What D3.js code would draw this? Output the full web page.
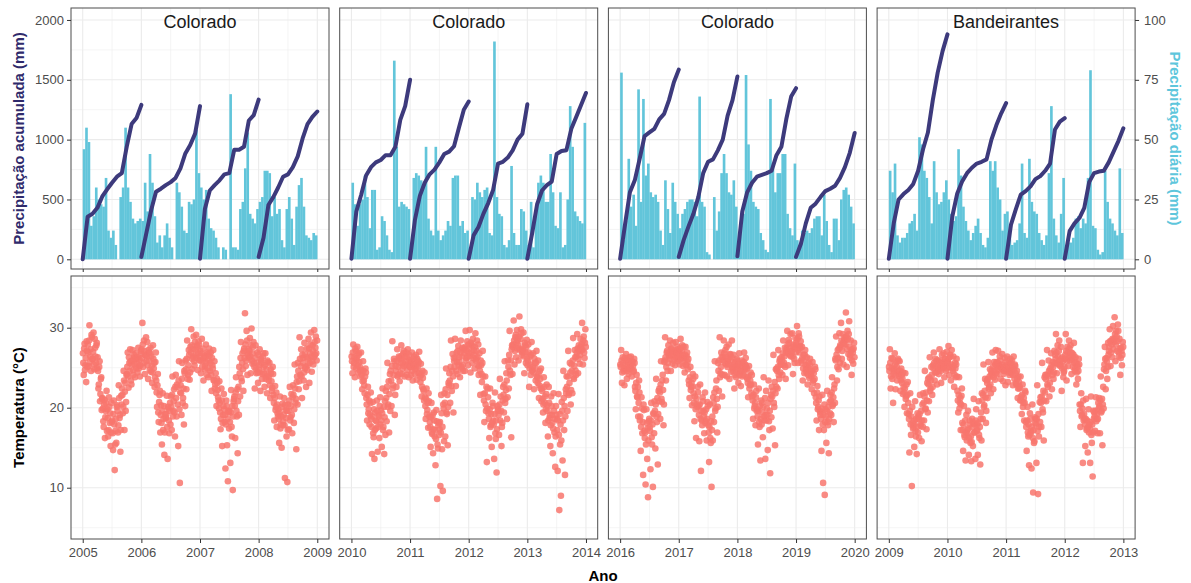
<!DOCTYPE html>
<html>
<head>
<meta charset="utf-8">
<script src="https://cdn.jsdelivr.net/npm/d3@7"></script>
<style>
  body { margin: 0; background: #fff; }
  svg { display: block; font-family: "Liberation Sans", Arial, sans-serif; }
</style>
</head>
<body>
<svg id="chart" width="1191" height="583"></svg>
<script>
// ---- données ----
const stations = ["Colorado", "Colorado", "Colorado", "Bandeirantes"];
const firstYear = [2005, 2010, 2016, 2009];
const accTicks = [0, 500, 1000, 1500, 2000];
const dailyTicks = [0, 25, 50, 75, 100];
const tempTicks = [10, 20, 30];

// chuva diária (mm), uma barra por quinzena, 4 anos por painel
const rain1 = [46,55,49,14,18,30,25,23,22,34,12,9,12,6,0,26,30,55,30,24,17,15,16,17,
  16,32,20,44,32,18,7,10,5,10,15,9,5,0,32,28,22,12,11,24,23,25,54,36,
  30,25,29,17,13,12,9,5,0,5,4,0,69,5,5,4,21,24,38,53,19,17,15,21,
  24,26,37,37,36,18,26,19,21,8,5,21,26,17,6,22,31,34,22,10,9,8,11,10];
const rain2 = [32,23,14,23,25,35,26,13,29,29,4,5,18,16,10,4,3,83,47,22,24,23,22,21,
  6,34,36,35,33,30,47,17,12,10,47,12,8,10,12,16,14,34,35,35,14,16,11,12,
  5,26,25,32,28,26,29,30,11,10,91,26,19,18,6,5,8,39,11,6,6,21,20,12,
  6,24,5,18,32,35,32,24,24,44,28,14,13,28,5,6,25,64,47,20,18,16,15,57];
const rain3 = [78,8,16,42,22,27,14,71,24,67,35,40,28,26,27,24,12,6,33,21,11,32,24,19,
  13,19,21,24,25,25,24,18,68,24,22,3,2,0,26,12,20,36,44,36,28,27,33,22,
  8,14,19,77,48,37,24,22,21,11,8,4,3,67,40,28,36,36,44,44,19,13,10,40,
  8,6,12,11,12,11,13,17,18,18,10,27,16,6,3,17,17,8,25,29,30,27,22,15];
const rain4 = [37,28,40,10,7,9,9,11,15,16,19,12,51,48,37,34,26,15,41,28,23,24,28,33,
  25,19,16,18,46,35,22,16,12,8,11,14,17,11,6,5,9,41,37,41,30,25,12,19,
  20,11,6,7,8,15,40,11,9,42,24,20,19,11,8,6,10,36,64,17,10,7,19,34,
  6,7,7,9,17,18,13,17,15,34,79,14,13,4,2,3,37,24,17,15,12,10,38,11];

// precipitação acumulada (mm) no início de cada mês (13 pontos por ano)
const acc1 = [
  [0,356,380,430,525,585,640,690,720,940,1130,1180,1290],
  [20,215,410,565,590,620,645,680,760,885,955,1050,1280],
  [5,420,575,620,660,710,720,915,915,940,1160,1205,1335],
  [20,180,454,520,600,690,710,770,860,1010,1130,1190,1235]];
const acc2 = [
  [5,400,540,700,770,810,830,870,870,940,1165,1280,1500],
  [5,330,530,640,710,750,810,880,900,945,1100,1250,1318],
  [5,200,270,380,470,580,800,815,850,910,1000,1050,1295],
  [5,220,460,575,620,650,880,905,912,1090,1190,1290,1390]];
const acc3 = [
  [5,290,560,660,840,1030,1060,1090,1170,1215,1330,1480,1585],
  [20,160,275,380,520,720,815,835,910,1000,1200,1330,1527],
  [25,400,560,640,690,705,720,740,870,940,1170,1360,1430],
  [20,130,300,430,465,520,570,590,615,680,770,890,1055]];
const acc4 = [
  [5,300,500,545,580,630,740,920,1060,1330,1560,1740,1880],
  [5,360,550,650,720,765,800,815,835,1000,1120,1220,1305],
  [5,290,420,540,570,610,670,695,740,800,1085,1150,1180],
  [5,235,300,345,430,645,720,733,740,810,900,990,1095]];

// temperatura (°C), 6 leituras por mês (série A)
const temp1 = [
  26.8,24.1,28.0,25.3,23.2,27.1, 27.9,25.2,30.3,26.4,24.6,28.8, 26.1,29.4,24.8,27.5,25.6,28.1,
  26.3,22.4,25.1,20.8,23.6,19.7, 21.2,18.3,20.4,16.2,19.6,22.1, 19.8,16.4,21.3,18.1,15.2,20.6,
  18.4,14.7,20.9,12.2,17.1,15.6, 20.3,16.9,22.8,18.7,14.5,21.5, 22.4,19.3,24.6,17.2,23.1,20.7,
  24.2,26.9,22.5,25.6,27.3,23.4, 25.4,27.2,24.1,26.3,23.8,26.8, 26.1,24.4,27.5,25.2,23.9,26.7,
  27.3,30.6,25.1,28.4,24.2,26.6, 25.8,28.2,23.6,26.9,24.7,27.5, 26.4,23.1,27.8,24.9,22.6,25.7,
  23.4,20.1,24.2,18.2,21.6,16.9, 20.3,15.4,21.8,18.6,14.1,19.2, 18.7,21.5,13.6,19.9,16.8,20.6,
  21.4,17.2,23.9,19.6,22.3,16.4, 24.1,18.9,22.6,15.2,25.8,10.6, 22.8,19.1,25.6,21.2,17.9,24.3,
  25.9,22.3,28.4,24.1,27.2,23.5, 27.6,29.8,24.8,26.4,28.9,25.3, 26.5,29.1,27.8,24.7,28.3,25.9,
  27.1,24.3,28.6,25.8,23.4,26.5, 25.2,27.9,24.1,26.7,23.8,27.4, 24.6,26.9,22.1,25.3,27.2,23.5,
  22.4,24.3,20.2,23.1,21.3,19.9, 20.6,17.3,22.4,15.2,19.1,21.7, 18.2,12.4,20.9,15.3,10.8,19.4,
  19.6,13.1,22.2,16.4,9.7,20.8, 21.4,16.2,23.8,18.9,14.3,22.6, 25.1,21.4,28.2,23.3,26.8,22.1,
  27.4,31.8,25.2,29.6,24.1,26.8, 26.2,28.7,24.3,29.9,25.5,27.6, 25.6,22.4,27.8,24.3,26.9,23.1,
  24.8,27.3,22.1,25.9,23.6,26.4, 25.1,22.6,26.8,23.9,21.8,25.7, 23.4,25.6,21.2,24.3,22.1,25.1,
  21.6,18.4,22.7,20.1,17.6,19.3, 19.8,15.6,21.4,17.9,15.0,20.5, 18.3,21.2,11.2,19.7,16.4,10.7,
  20.4,17.3,22.6,18.8,21.7,16.8, 22.8,18.1,25.4,20.6,14.8,23.9, 25.6,22.3,28.8,24.1,27.3,21.2,
  26.2,23.4,28.1,24.9,22.6,27.4, 25.3,28.6,23.1,26.8,29.4,24.5, 27.8,25.4,29.7,26.6,28.9,25.9];
const temp2 = [
  26.4,24.3,27.9,25.6,23.8,27.1, 25.9,27.6,24.4,26.8,25.1,23.9, 24.7,22.3,25.8,23.4,21.8,24.9,
  21.2,18.4,22.6,19.8,17.9,20.6, 18.6,14.2,20.7,16.3,13.6,19.4, 17.4,20.9,14.5,19.1,16.2,21.3,
  19.7,15.1,22.4,17.6,14.2,20.8, 22.1,18.3,25.6,20.4,16.9,24.2, 24.6,20.2,28.3,22.8,26.1,19.1,
  25.2,22.6,27.3,24.1,26.4,23.3, 26.1,27.8,24.2,25.6,27.1,23.9, 25.4,26.9,24.1,27.3,23.8,25.9,
  25.7,24.1,26.9,23.4,25.2,26.4, 24.8,26.6,23.5,25.9,24.3,27.0, 23.9,25.5,21.4,24.6,22.3,20.9,
  21.3,18.6,22.4,19.7,17.5,20.8, 18.2,15.1,20.6,16.7,14.3,19.4, 16.4,12.8,19.7,8.6,14.9,18.1,
  17.3,10.2,21.6,14.8,9.6,19.9, 21.8,16.4,24.9,19.2,15.3,23.1, 24.3,20.6,28.4,22.1,26.7,19.4,
  25.8,28.6,22.7,26.9,24.2,27.7, 26.3,23.8,28.4,25.1,27.5,24.6, 27.4,24.6,29.6,26.2,28.3,25.3,
  26.8,29.7,24.4,27.9,25.6,28.6, 27.2,24.9,29.3,26.1,28.4,25.3, 24.1,26.8,21.6,25.3,23.2,27.1,
  21.7,18.2,23.9,19.6,13.2,22.4, 19.3,16.2,22.4,17.8,15.1,20.6, 18.4,13.6,21.9,16.1,11.9,20.2,
  19.8,16.6,23.6,21.4,15.2,18.1, 22.6,19.4,25.8,21.1,24.3,18.6, 25.9,22.4,29.6,24.1,16.3,27.8,
  27.6,30.9,25.4,28.8,26.3,29.7, 28.4,25.9,31.4,27.2,29.8,26.6, 26.9,29.4,24.3,27.8,25.6,28.5,
  25.3,27.9,22.6,26.4,24.1,28.2, 24.7,26.8,22.3,25.6,23.4,27.1, 23.8,25.9,21.2,24.6,22.4,20.8,
  22.1,19.4,23.8,20.6,18.1,21.7, 20.3,16.4,22.6,18.7,15.2,21.4, 19.1,14.3,21.8,16.9,12.6,20.2,
  18.6,12.1,21.7,7.2,15.4,9.0, 20.7,13.4,24.6,17.2,11.6,22.3, 23.9,19.6,27.1,21.8,25.6,20.4,
  25.4,21.8,28.7,23.6,27.2,24.6, 26.4,29.2,24.3,27.8,25.5,28.6, 27.3,30.6,25.4,28.9,26.2,29.8];
const temp3 = [
  25.4,27.2,23.1,26.3,24.6,22.8, 24.8,26.7,23.6,25.9,24.2,26.3, 25.1,26.4,23.9,25.7,24.5,26.1,
  22.6,19.8,24.1,21.3,18.9,23.4, 18.4,14.6,21.3,16.8,11.6,19.7, 16.2,10.4,19.8,13.6,8.8,18.3,
  17.6,12.3,20.6,15.4,10.1,19.2, 20.8,14.9,23.6,18.2,12.9,22.1, 22.4,18.6,25.8,20.7,24.1,17.8,
  25.7,28.8,23.4,26.9,24.6,27.8, 26.4,28.4,24.6,27.3,25.5,28.1, 26.9,25.3,28.2,26.1,27.6,25.8,
  27.1,25.4,28.6,26.3,27.8,25.2, 26.2,24.4,27.6,25.3,26.9,24.8, 23.4,21.2,25.1,22.6,20.3,24.2,
  21.8,18.3,23.9,16.2,20.4,22.6, 20.2,15.8,22.9,12.1,18.4,21.3, 19.6,16.8,21.9,18.3,15.9,20.7,
  17.8,13.2,20.4,15.6,10.1,18.9, 21.3,18.2,25.8,19.9,23.4,16.9, 25.6,22.1,28.8,24.3,26.9,21.4,
  26.3,28.4,24.1,27.2,25.4,23.9, 25.8,27.9,23.6,26.7,24.5,28.4, 24.9,26.6,22.4,25.7,23.8,26.1,
  25.2,23.1,26.8,24.4,22.7,25.9, 25.6,24.1,26.9,24.8,26.2,23.8, 23.6,21.3,25.2,22.8,24.4,21.8,
  21.4,18.6,22.9,20.2,17.8,22.1, 19.8,15.4,22.4,17.6,13.4,20.9, 20.6,16.3,23.8,18.4,13.6,22.1,
  19.9,14.7,23.4,17.2,11.8,21.6, 22.6,17.4,26.6,20.1,15.3,24.8, 24.9,22.4,27.2,23.6,26.1,25.4,
  26.3,24.1,28.4,25.6,27.5,23.6, 27.4,29.6,25.3,28.5,26.6,29.2, 26.8,29.3,24.2,27.9,25.6,28.7,
  28.1,30.2,25.6,29.3,26.9,27.7, 25.9,27.6,23.4,26.6,24.3,27.2, 24.8,26.3,22.9,25.6,23.7,26.1,
  24.2,22.3,25.7,23.4,21.8,25.1, 21.3,18.4,22.7,20.1,17.2,19.6, 19.4,14.6,21.6,10.6,17.2,9.1,
  19.8,15.6,22.1,17.8,14.3,20.7, 21.6,19.1,23.8,20.4,18.2,22.9, 26.1,28.9,23.4,27.2,24.8,29.3,
  27.8,30.6,26.1,29.2,25.4,28.5, 28.4,31.9,25.1,29.6,26.7,30.8, 26.2,28.4,24.1,27.3,25.5,28.1];
const temp4 = [
  25.1,27.3,22.4,26.2,23.6,20.6, 24.6,26.8,22.3,25.7,23.4,26.1, 24.2,25.8,22.1,24.9,23.1,21.7,
  22.6,20.1,24.3,21.4,19.3,23.2, 19.2,14.4,21.8,16.6,10.2,18.1, 17.6,15.1,20.8,16.4,14.2,19.3,
  18.9,16.2,21.6,17.7,15.8,20.4, 21.8,18.4,24.6,19.9,17.3,23.1, 23.6,20.8,26.3,22.4,25.1,21.6,
  25.3,26.9,23.4,26.1,24.4,22.9, 25.9,24.2,27.3,25.1,23.1,26.6, 25.4,26.8,23.8,26.1,24.6,27.0,
  25.8,27.7,24.1,26.6,23.4,27.2, 24.9,26.4,22.6,25.6,23.8,26.1, 22.1,19.4,23.8,20.6,17.2,21.5,
  18.1,14.6,20.2,16.3,13.4,19.1, 17.2,19.6,14.1,18.4,15.6,13.3, 18.6,15.2,21.1,16.9,13.6,19.8,
  17.9,14.1,20.8,16.2,12.9,19.4, 21.8,18.6,25.4,20.3,23.6,18.1, 23.4,21.2,25.7,22.6,24.8,21.8,
  24.6,26.9,22.3,25.7,23.5,27.2, 25.7,24.2,27.1,25.2,26.4,23.6, 25.1,26.7,23.3,24.6,26.2,22.8,
  24.7,26.4,23.2,25.6,24.1,26.1, 24.3,25.9,22.8,26.4,23.6,25.2, 23.1,24.6,21.2,23.9,22.4,20.9,
  21.4,19.2,22.9,20.6,18.4,22.1, 18.2,14.6,20.1,16.4,12.8,19.3, 17.1,12.4,20.4,9.4,15.6,18.8,
  18.6,13.1,22.8,9.2,16.4,20.7, 21.3,17.6,25.6,19.4,15.9,23.8, 24.1,20.8,27.2,22.6,25.9,21.4,
  24.9,26.8,22.3,25.7,23.6,27.1, 26.6,29.2,24.3,27.8,25.4,28.4, 25.2,27.6,22.1,26.3,23.8,24.6,
  26.1,29.2,23.4,27.6,25.2,28.4, 25.9,27.8,24.2,26.8,25.1,28.1, 24.6,26.3,22.9,25.4,23.6,26.1,
  20.4,17.6,21.8,19.1,13.1,18.4, 18.6,15.2,21.1,17.4,14.4,19.8, 17.9,13.1,21.4,15.6,11.4,19.6,
  19.4,17.1,21.3,18.6,16.8,20.6, 21.2,16.8,23.9,19.6,15.3,22.6, 24.8,27.6,22.3,26.2,23.6,28.1,
  27.1,29.8,25.2,28.4,26.3,30.2, 28.2,31.3,25.8,29.6,27.1,30.4, 26.4,28.6,24.1,27.5,25.3,28.2];

// temperatura (°C), 6 leituras por mês intercaladas (série B)
const temp1b = [
  25.6,27.4,24.7,26.2,28.3,25.1, 26.9,28.4,25.7,27.3,29.1,26.1, 27.0,25.4,28.6,26.4,27.8,24.9,
  24.6,22.9,25.8,21.7,23.8,21.1, 19.9,17.6,21.0,18.8,20.6,17.1, 18.7,17.2,20.1,19.3,16.9,18.2,
  16.8,19.2,17.9,15.4,18.6,20.1, 19.6,17.8,21.2,19.1,17.2,20.4, 21.6,20.1,23.4,22.0,19.6,24.1,
  25.1,23.9,26.3,24.6,25.8,22.9, 25.9,24.7,26.6,25.4,26.1,24.9, 25.6,26.3,24.9,26.0,25.3,27.1,
  26.2,27.9,25.6,27.1,26.6,28.8, 26.4,25.3,27.2,25.9,26.8,24.5, 25.2,24.4,26.1,25.6,23.8,26.9,
  21.9,22.8,19.4,20.7,22.1,19.1, 18.1,19.6,17.2,20.2,16.9,18.8, 19.2,17.6,20.1,18.4,19.6,17.9,
  20.1,21.6,18.9,20.8,19.4,22.6, 21.2,22.9,20.4,23.4,19.8,21.9, 21.8,23.6,20.6,22.4,24.6,20.2,
  24.8,26.1,23.6,25.3,26.6,24.4, 26.9,27.8,26.1,27.3,25.8,28.2, 27.2,26.2,27.6,26.8,27.9,26.4,
  25.9,26.8,25.1,27.4,26.2,24.8, 26.3,25.6,26.9,24.9,25.9,26.5, 25.6,24.1,26.2,24.9,23.4,25.8,
  22.9,21.8,23.6,22.2,20.9,23.3, 19.4,18.6,20.9,18.1,20.2,19.8, 19.1,17.9,20.2,18.6,19.6,17.4,
  18.2,19.4,17.6,20.2,18.9,21.1, 20.2,21.9,19.6,22.3,20.8,19.1, 24.3,26.2,23.7,25.6,24.8,27.1,
  26.2,27.9,25.9,28.4,26.6,27.3, 27.1,26.4,27.8,25.9,26.8,28.2, 25.1,26.2,24.8,25.6,24.4,26.6,
  25.3,24.4,26.1,25.6,24.2,26.8, 24.3,25.3,23.6,24.8,25.9,24.1, 23.9,22.8,24.8,23.3,22.5,24.2,
  20.6,21.2,19.7,21.9,20.4,18.9, 18.6,19.4,17.4,18.9,20.1,17.8, 19.1,17.8,20.4,18.7,19.6,17.2,
  19.6,20.9,18.4,20.2,19.1,21.3, 21.6,19.8,22.4,21.1,23.2,20.4, 24.6,23.3,26.1,25.2,23.9,26.6,
  25.6,24.4,26.7,25.1,26.3,24.7, 26.1,27.4,25.6,27.9,26.4,25.8, 27.1,26.3,28.2,27.5,26.8,28.4];
const temp2b = [
  25.8,26.9,25.1,26.3,27.4,24.9, 26.2,25.3,26.6,25.7,24.6,26.9, 24.1,23.3,24.6,22.8,23.9,24.4,
  20.4,21.6,19.3,20.9,19.1,21.9, 17.6,18.9,16.8,19.8,17.2,18.4, 18.3,19.6,17.6,18.9,20.2,17.9,
  18.4,19.3,17.2,20.1,18.8,16.6, 21.2,22.6,20.1,23.3,21.7,19.6, 23.4,25.2,22.4,24.1,25.8,21.6,
  24.6,25.8,23.9,25.1,26.2,24.3, 25.6,26.5,24.9,26.8,25.2,26.3, 25.8,26.4,24.7,25.3,26.6,25.1,
  25.1,25.9,24.6,26.1,25.4,24.2, 25.4,24.9,26.1,25.2,25.7,24.4, 23.2,24.1,22.6,23.7,22.1,24.4,
  20.2,21.1,19.2,20.6,21.8,18.9, 17.6,18.8,16.9,19.1,17.3,18.4, 17.2,16.1,18.3,15.4,17.8,16.6,
  18.2,16.9,19.3,17.6,20.4,15.8, 20.6,22.3,19.4,21.6,20.1,22.8, 23.4,25.1,22.7,24.6,23.9,26.2,
  25.1,26.3,24.6,25.7,27.1,25.3, 25.7,26.9,24.9,26.4,25.3,27.2, 26.8,27.6,25.9,27.1,26.4,27.9,
  27.4,26.4,28.1,26.9,27.7,26.2, 26.6,27.6,25.9,27.1,26.3,27.9, 25.2,24.6,25.9,24.2,25.6,23.9,
  20.9,21.8,20.4,22.6,19.9,21.3, 18.6,19.8,17.6,19.2,18.1,20.2, 17.9,19.2,16.8,18.4,17.3,19.6,
  19.1,20.4,18.4,19.6,17.6,20.9, 21.6,22.9,20.6,22.2,23.4,21.3, 25.1,26.6,24.6,25.9,27.3,24.2,
  27.9,28.4,27.1,29.1,28.1,27.4, 27.8,28.9,27.4,28.6,29.3,27.1, 27.3,26.4,28.1,26.9,27.6,26.1,
  25.8,26.9,24.9,25.4,26.6,24.6, 25.1,24.4,26.1,24.9,25.6,23.9, 23.1,24.2,22.8,23.6,24.9,22.4,
  21.1,20.4,22.6,21.4,19.8,22.9, 19.6,18.4,20.6,19.1,17.8,20.2, 18.1,17.4,19.6,18.6,16.4,19.1,
  17.2,18.4,16.6,19.2,17.9,15.9, 19.6,18.4,21.2,20.2,18.9,21.8, 22.6,23.9,21.6,23.1,24.4,22.2,
  24.6,25.9,23.8,25.2,26.3,24.1, 26.9,27.4,26.1,27.1,26.6,27.6, 27.9,27.2,28.4,26.9,28.1,27.6];
const temp3b = [
  25.1,25.9,24.4,25.6,24.9,26.2, 25.3,25.9,24.6,25.1,25.6,24.9, 25.4,24.9,25.8,25.2,24.6,25.6,
  22.1,23.1,21.4,22.6,20.6,21.9, 18.9,17.6,19.9,18.2,20.4,17.1, 16.9,15.4,18.1,17.4,15.9,18.6,
  17.1,18.4,16.3,17.9,19.3,16.8, 19.6,20.4,18.9,21.2,19.2,20.8, 21.9,22.9,21.1,23.4,22.2,20.4,
  25.9,26.3,25.1,27.1,25.6,26.6, 26.9,26.1,27.4,26.6,27.1,25.9, 26.6,27.1,26.3,26.9,27.3,26.4,
  26.8,27.4,26.1,27.1,26.6,27.6, 25.9,26.6,25.4,26.4,25.7,26.1, 22.9,23.8,22.2,23.1,22.6,23.6,
  20.6,21.4,19.8,21.1,20.1,21.9, 19.1,20.4,18.6,19.6,17.8,20.8, 18.9,19.4,18.1,19.8,18.6,20.2,
  16.9,17.6,16.2,18.3,17.2,15.9, 20.6,21.9,19.6,22.4,21.1,20.1, 24.6,25.9,23.8,25.1,26.3,24.1,
  25.9,26.8,25.6,26.4,27.6,25.1, 26.1,25.4,26.6,25.9,26.3,25.1, 24.6,25.4,24.1,25.1,24.4,25.9,
  24.8,25.4,24.1,25.1,24.6,23.9, 25.2,25.7,24.6,25.4,25.1,24.9, 23.1,23.9,22.4,23.4,22.9,24.1,
  20.9,21.6,19.9,20.6,21.3,19.6, 18.9,19.6,18.2,20.2,18.6,17.9, 19.4,20.1,18.9,21.2,19.1,18.4,
  19.1,20.6,18.3,19.6,21.1,18.8, 21.4,22.1,20.6,23.2,21.8,22.6, 24.6,25.1,24.1,25.8,24.4,25.4,
  25.9,26.8,25.3,26.4,25.1,26.9, 27.1,27.9,26.8,28.1,27.4,26.4, 27.1,26.4,27.6,26.1,27.4,26.9,
  27.8,28.6,27.2,28.9,27.5,28.3, 25.6,26.2,24.9,25.9,26.6,25.3, 24.4,25.2,24.1,24.9,25.4,24.6,
  23.9,24.6,23.1,24.3,23.6,24.8, 20.6,21.9,19.8,20.9,21.4,19.1, 18.6,19.9,17.9,19.1,20.4,18.2,
  18.9,19.6,18.2,20.1,18.6,19.3, 20.9,21.9,20.2,21.3,22.4,20.6, 25.9,26.6,25.1,26.2,27.4,25.6,
  27.6,28.4,27.1,28.1,27.9,28.8, 27.9,28.9,27.3,28.6,29.2,27.6, 26.6,27.1,25.9,26.9,27.4,26.3];
const temp4b = [
  24.6,25.6,23.9,24.9,26.1,24.2, 24.9,25.4,24.1,25.1,24.6,25.9, 23.9,24.6,23.4,24.1,23.6,24.4,
  21.9,22.4,21.1,22.9,21.6,20.6, 18.6,19.6,17.9,18.9,20.1,17.4, 17.9,18.4,17.1,18.6,17.6,16.9,
  18.6,19.2,17.9,19.6,18.4,17.6, 20.6,21.4,19.8,21.9,20.9,19.4, 22.9,23.8,22.1,23.4,24.1,22.6,
  24.9,25.6,24.4,25.2,25.9,24.6, 25.4,24.8,25.9,24.6,25.6,24.9, 25.6,25.1,26.1,25.3,24.9,25.8,
  25.6,26.2,25.1,26.4,25.4,24.9, 24.6,25.2,24.1,24.9,25.4,23.9, 20.9,21.6,19.9,21.2,20.4,22.4,
  17.2,17.9,16.6,18.4,16.9,15.9, 16.8,17.4,16.2,17.9,16.4,15.7, 17.6,18.1,16.9,17.9,18.4,17.1,
  17.2,18.1,16.6,17.6,18.6,15.9, 20.9,21.6,20.1,22.1,21.3,19.6, 23.1,23.6,22.4,23.9,22.9,24.3,
  24.1,25.1,23.8,24.6,25.4,24.3, 25.1,25.6,24.7,25.4,25.9,24.9, 24.9,25.4,24.2,25.1,24.6,25.7,
  24.9,25.3,24.4,25.1,24.6,25.6, 24.6,25.1,24.1,24.8,25.4,24.3, 22.9,23.6,22.4,23.2,22.6,23.9,
  20.9,21.6,20.1,21.2,20.6,21.9, 17.6,18.4,16.9,17.9,16.6,18.6, 16.9,17.6,16.2,17.2,15.8,18.1,
  17.9,18.6,17.1,19.2,17.6,18.2, 20.6,21.4,19.8,22.1,20.9,21.9, 23.6,24.1,22.9,23.9,24.6,23.1,
  24.6,25.3,24.1,25.1,24.4,25.6, 26.1,26.9,25.6,26.4,27.1,25.9, 25.4,26.1,24.9,25.8,24.4,25.1,
  26.6,27.1,25.9,26.9,26.3,27.4, 26.4,26.9,25.9,26.2,26.6,25.6, 24.9,25.6,24.4,25.1,24.6,25.4,
  19.6,20.4,18.9,19.9,20.9,19.2, 17.9,18.6,17.2,18.4,17.6,16.9, 17.4,18.2,16.6,17.9,16.9,18.6,
  18.9,19.6,18.3,19.2,18.6,19.9, 20.2,20.9,19.4,21.1,20.4,19.9, 25.4,26.1,24.6,25.8,25.1,26.6,
  27.6,28.3,26.9,27.9,28.6,27.3, 28.6,29.2,27.9,28.9,28.3,29.6, 26.9,27.4,26.2,27.1,26.6,27.6];

const rains = [rain1, rain2, rain3, rain4];
const accs = [acc1, acc2, acc3, acc4];
const temps = [temp1, temp2, temp3, temp4];
const tempsB = [temp1b, temp2b, temp3b, temp4b];

// ---- mise en page ----
const svg = d3.select("#chart");
const panelW = 258, panelStep = 268.7, left0 = 71;
const topRow = [8, 269], botRow = [276, 539];

const yAcc = d3.scaleLinear().domain([-81, 2100]).range([topRow[1], topRow[0]]);
const yDaily = d3.scaleLinear().domain([-81 / 20, 2100 / 20]).range([topRow[1], topRow[0]]);
const yTemp = d3.scaleLinear().domain([3.59, 36.46]).range([botRow[1], botRow[0]]);

const gridCol = "#ebebeb";
const barCol = "#62c5da";
const lineCol = "#3d3a7c";
const pointCol = "#F8766D";

function styleAxis(g) {
  g.select(".domain").remove();
  g.selectAll(".tick line").attr("stroke", "#333").attr("stroke-width", 1);
  g.selectAll(".tick text").attr("fill", "#4d4d4d").style("font-size", "13px");
}

stations.forEach((name, p) => {
  const start = firstYear[p];
  const x0 = left0 + p * panelStep;
  const x = d3.scaleLinear().domain([start - 0.2, start + 4.2]).range([x0, x0 + panelW]);
  const years = d3.range(start, start + 5);
  const halfYears = d3.range(start + 0.5, start + 4, 1);

  // ---------- painel de cima ----------
  const top = svg.append("g");
  [[halfYears, 0.55], [years, 1.1]].forEach(([vals, w]) => {
    top.selectAll(null).data(vals).enter().append("line")
      .attr("x1", d => x(d)).attr("x2", d => x(d))
      .attr("y1", topRow[0]).attr("y2", topRow[1])
      .attr("stroke", gridCol).attr("stroke-width", w);
  });
  [[[250, 750, 1250, 1750], 0.55], [accTicks, 1.1]].forEach(([vals, w]) => {
    top.selectAll(null).data(vals).enter().append("line")
      .attr("x1", x0).attr("x2", x0 + panelW)
      .attr("y1", d => yAcc(d)).attr("y2", d => yAcc(d))
      .attr("stroke", gridCol).attr("stroke-width", w);
  });

  const bw = x(start + 1 / 24) - x(start);
  top.selectAll(null).data(rains[p]).enter().append("rect")
    .attr("x", (d, i) => x(start + i / 24))
    .attr("width", bw + 0.2)
    .attr("y", d => yDaily(d))
    .attr("height", d => yDaily(0) - yDaily(d))
    .attr("fill", barCol);

  const line = d3.line().x(d => x(d[0])).y(d => yAcc(d[1]));
  accs[p].forEach((yr, k) => {
    const pts = yr.map((v, m) => [start + k + m / 12, v]);
    top.append("path").attr("d", line(pts))
      .attr("fill", "none").attr("stroke", lineCol).attr("stroke-width", 4)
      .attr("stroke-linejoin", "round").attr("stroke-linecap", "round");
  });

  top.append("text")
    .attr("x", x0 + panelW / 2).attr("y", 27.5)
    .attr("text-anchor", "middle").style("font-size", "18px").attr("fill", "#1a1a1a")
    .text(name);

  top.append("rect").attr("x", x0).attr("y", topRow[0])
    .attr("width", panelW).attr("height", topRow[1] - topRow[0])
    .attr("fill", "none").attr("stroke", "#4d4d4d").attr("stroke-width", 1);

  top.append("g").attr("transform", `translate(0,${topRow[1]})`)
    .call(d3.axisBottom(x).tickValues(years).tickFormat("").tickSize(3))
    .call(styleAxis);

  // ---------- painel de baixo ----------
  const bot = svg.append("g");
  [[halfYears, 0.55], [years, 1.1]].forEach(([vals, w]) => {
    bot.selectAll(null).data(vals).enter().append("line")
      .attr("x1", d => x(d)).attr("x2", d => x(d))
      .attr("y1", botRow[0]).attr("y2", botRow[1])
      .attr("stroke", gridCol).attr("stroke-width", w);
  });
  [[[5, 15, 25, 35], 0.55], [tempTicks, 1.1]].forEach(([vals, w]) => {
    bot.selectAll(null).data(vals).enter().append("line")
      .attr("x1", x0).attr("x2", x0 + panelW)
      .attr("y1", d => yTemp(d)).attr("y2", d => yTemp(d))
      .attr("stroke", gridCol).attr("stroke-width", w);
  });

  [[temps[p], 0.25], [tempsB[p], 0.75]].forEach(([vals, off]) => {
    bot.selectAll(null).data(vals).enter().append("circle")
      .attr("cx", (d, i) => x(start + Math.floor(i / 6) / 12 + ((i % 6) + off) / 72))
      .attr("cy", d => yTemp(d))
      .attr("r", 3.3)
      .attr("fill", pointCol).attr("fill-opacity", 0.85);
  });

  bot.append("rect").attr("x", x0).attr("y", botRow[0])
    .attr("width", panelW).attr("height", botRow[1] - botRow[0])
    .attr("fill", "none").attr("stroke", "#4d4d4d").attr("stroke-width", 1);

  bot.append("g").attr("transform", `translate(0,${botRow[1]})`)
    .call(d3.axisBottom(x).tickValues(years).tickFormat(d3.format("d")).tickSize(4).tickPadding(5))
    .call(styleAxis);

  if (p === 0) {
    svg.append("g").attr("transform", `translate(${x0},0)`)
      .call(d3.axisLeft(yAcc).tickValues(accTicks).tickFormat(d3.format("d")).tickSize(4).tickPadding(3))
      .call(styleAxis);
    svg.append("g").attr("transform", `translate(${x0},0)`)
      .call(d3.axisLeft(yTemp).tickValues(tempTicks).tickFormat(d3.format("d")).tickSize(4).tickPadding(3))
      .call(styleAxis);
  }
  if (p === 3) {
    svg.append("g").attr("transform", `translate(${x0 + panelW},0)`)
      .call(d3.axisRight(yDaily).tickValues(dailyTicks).tickFormat(d3.format("d")).tickSize(4).tickPadding(5))
      .call(styleAxis);
  }
});

// ---------- títulos dos eixos ----------
svg.append("text")
  .attr("transform", `translate(24,${(topRow[0] + topRow[1]) / 2}) rotate(-90)`)
  .attr("text-anchor", "middle").style("font-size", "15px").style("font-weight", "bold")
  .attr("fill", "#2f2a6b").text("Precipitação acumulada (mm)");

svg.append("text")
  .attr("transform", `translate(1170,${(topRow[0] + topRow[1]) / 2}) rotate(90)`)
  .attr("text-anchor", "middle").style("font-size", "15px").style("font-weight", "bold")
  .attr("fill", "#5ec6dc").text("Precipitação diária (mm)");

svg.append("text")
  .attr("transform", `translate(24,${(botRow[0] + botRow[1]) / 2}) rotate(-90)`)
  .attr("text-anchor", "middle").style("font-size", "15px").style("font-weight", "bold")
  .attr("fill", "#000").text("Temperatura (°C)");

svg.append("text")
  .attr("x", 603).attr("y", 581)
  .attr("text-anchor", "middle").style("font-size", "15px").style("font-weight", "bold")
  .attr("fill", "#000").text("Ano");
</script>
</body>
</html>
